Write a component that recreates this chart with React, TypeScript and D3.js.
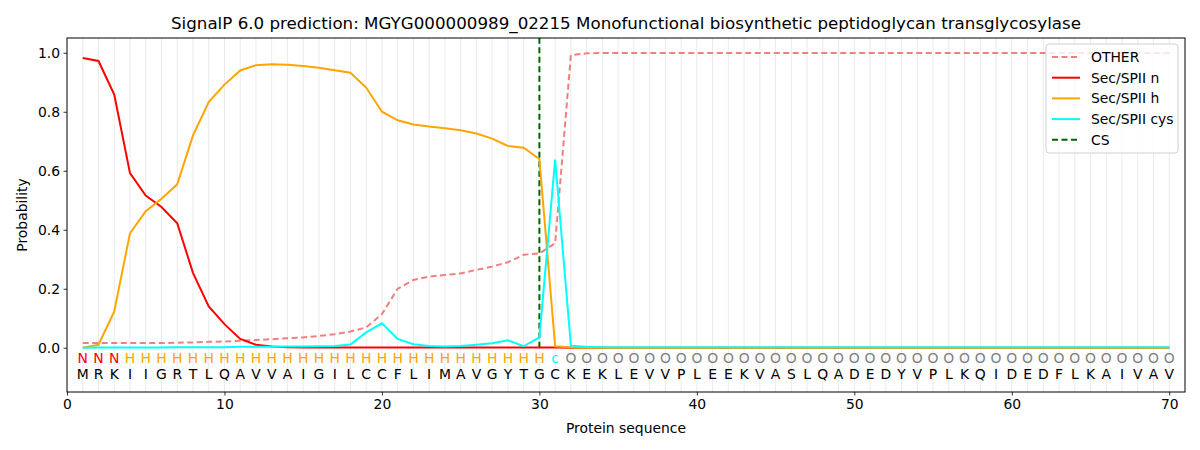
import React, { useEffect, useRef } from "react";
import * as d3 from "d3";

// residues and per-position labels
const sequence = "MRKIIGRTLQAVVAIGILCCFLIMAVGYTGCKEKLEVVPLEEKVASLQADEDYVPLKQIDEDFLKAIVAV".split("");
const regionLabels = "NNNHHHHHHHHHHHHHHHHHHHHHHHHHHHcOOOOOOOOOOOOOOOOOOOOOOOOOOOOOOOOOOOOOOO".split("");

const otherProb = [
  0.016, 0.016, 0.016, 0.016, 0.016, 0.016, 0.017, 0.018, 0.02, 0.021,
  0.024, 0.026, 0.029, 0.032, 0.035, 0.04, 0.046, 0.055, 0.069, 0.114,
  0.2, 0.23, 0.241, 0.247, 0.252, 0.264, 0.275, 0.29, 0.315, 0.32,
  0.354, 0.992, 0.998, 0.999, 0.999, 0.999, 0.999, 0.999, 0.999, 0.999,
  0.999, 0.999, 0.999, 0.999, 0.999, 0.999, 0.999, 0.999, 0.999, 0.999,
  0.999, 0.999, 0.999, 0.999, 0.999, 0.999, 0.999, 0.999, 0.999, 0.999,
  0.999, 0.999, 0.999, 0.999, 0.999, 0.999, 0.999, 0.999, 0.999, 0.999,
];
const nProb = [
  0.982, 0.972, 0.858, 0.592, 0.516, 0.477, 0.422, 0.254, 0.14, 0.08,
  0.03, 0.01, 0.004, 0.002, 0.001, 0.001, 0.001, 0.001, 0.001, 0.001,
  0.001, 0.001, 0.001, 0.001, 0.001, 0.001, 0.001, 0.001, 0.001, 0.001,
  0.001, 0, 0, 0, 0, 0, 0, 0, 0, 0,
  0, 0, 0, 0, 0, 0, 0, 0, 0, 0,
  0, 0, 0, 0, 0, 0, 0, 0, 0, 0,
  0, 0, 0, 0, 0, 0, 0, 0, 0, 0,
];
const hProb = [
  0.0, 0.01, 0.123, 0.388, 0.463, 0.505, 0.554, 0.72, 0.833, 0.892,
  0.94, 0.958, 0.961, 0.959, 0.955, 0.949, 0.941, 0.932, 0.882, 0.8,
  0.771, 0.757, 0.75, 0.744, 0.737, 0.726, 0.709, 0.684, 0.678, 0.64,
  0.005, 0.001, 0, 0, 0, 0, 0, 0, 0, 0,
  0, 0, 0, 0, 0, 0, 0, 0, 0, 0,
  0, 0, 0, 0, 0, 0, 0, 0, 0, 0,
  0, 0, 0, 0, 0, 0, 0, 0, 0, 0,
];
const cysProb = [
  0.0, 0.001, 0.001, 0.001, 0.001, 0.001, 0.002, 0.002, 0.002, 0.002,
  0.003, 0.003, 0.003, 0.004, 0.004, 0.005, 0.006, 0.011, 0.052, 0.083,
  0.03, 0.012, 0.006, 0.004, 0.006, 0.01, 0.015, 0.025, 0.005, 0.035,
  0.638, 0.007, 0.003, 0.002, 0.002, 0.002, 0.002, 0.002, 0.002, 0.002,
  0.002, 0.002, 0.002, 0.002, 0.002, 0.002, 0.002, 0.002, 0.002, 0.002,
  0.002, 0.002, 0.002, 0.002, 0.002, 0.002, 0.002, 0.002, 0.002, 0.002,
  0.002, 0.002, 0.002, 0.002, 0.002, 0.002, 0.002, 0.002, 0.002, 0.002,
];
const csPosition = 30;

const xTicks = [0, 10, 20, 30, 40, 50, 60, 70];
const yTicks = [0, 0.2, 0.4, 0.6, 0.8, 1.0];

const series = [
  { name: "OTHER", values: otherProb, color: "#f08080", dash: "6,3.5" },
  { name: "Sec/SPII n", values: nProb, color: "#ff0000", dash: null },
  { name: "Sec/SPII h", values: hProb, color: "#ffa500", dash: null },
  { name: "Sec/SPII cys", values: cysProb, color: "#00ffff", dash: null },
];

const labelColor: any = { N: "#ff0000", H: "#ffa500", c: "#00ffff", O: "#808080" };

const W = 1200;
const H = 450;
const margin = { top: 38, right: 15, bottom: 58, left: 67 };
const font = "DejaVu Sans, sans-serif";

export default function App() {
  const ref = useRef(null);

  useEffect(() => {
    const svg = d3.select(ref.current);
    svg.selectAll("*").remove();

    const x = d3.scaleLinear().domain([0, 71]).range([margin.left, W - margin.right]);
    const y = d3.scaleLinear().domain([-0.15, 1.05]).range([H - margin.bottom, margin.top]);

    svg.append("rect").attr("width", W).attr("height", H).attr("fill", "white");

    // vertical grid at each residue
    svg
      .append("g")
      .selectAll("line")
      .data(sequence)
      .join("line")
      .attr("x1", (_d, i) => x(i + 1))
      .attr("x2", (_d, i) => x(i + 1))
      .attr("y1", y(1.05))
      .attr("y2", y(-0.15))
      .attr("stroke", "#ebebeb")
      .attr("stroke-width", 1);

    // CS line
    svg
      .append("line")
      .attr("x1", x(csPosition))
      .attr("x2", x(csPosition))
      .attr("y1", y(0))
      .attr("y2", y(1.05))
      .attr("stroke", "#006400")
      .attr("stroke-width", 2)
      .attr("stroke-dasharray", "6,3.5");

    const line = d3
      .line<number>()
      .x((_d, i) => x(i + 1))
      .y((d) => y(d));

    series.forEach((s) => {
      svg
        .append("path")
        .datum(s.values)
        .attr("d", line)
        .attr("fill", "none")
        .attr("stroke", s.color)
        .attr("stroke-width", 2)
        .attr("stroke-dasharray", s.dash);
    });

    // residue labels
    svg
      .append("g")
      .selectAll("text")
      .data(regionLabels)
      .join("text")
      .attr("x", (_d, i) => x(i + 1))
      .attr("y", y(-0.05))
      .attr("text-anchor", "middle")
      .attr("font-family", font)
      .attr("font-size", 13.9)
      .attr("fill", (d) => labelColor[d])
      .text((d) => d);

    svg
      .append("g")
      .selectAll("text")
      .data(sequence)
      .join("text")
      .attr("x", (_d, i) => x(i + 1))
      .attr("y", y(-0.105))
      .attr("text-anchor", "middle")
      .attr("font-family", font)
      .attr("font-size", 13.9)
      .attr("fill", "#000")
      .text((d) => d);

    // axes
    const xAxis = svg
      .append("g")
      .attr("transform", `translate(0,${H - margin.bottom})`)
      .call(d3.axisBottom(x).tickValues(xTicks).tickSize(3.5).tickPadding(3.5).tickFormat(d3.format("d")));
    const yAxis = svg
      .append("g")
      .attr("transform", `translate(${margin.left},0)`)
      .call(d3.axisLeft(y).tickValues(yTicks).tickSize(3.5).tickPadding(3.5).tickFormat(d3.format(".1f")));
    [xAxis, yAxis].forEach((a) => {
      a.select(".domain").remove();
      a.selectAll("text").attr("font-family", font).attr("font-size", 13.9).attr("fill", "#000");
      a.selectAll("line").attr("stroke", "#000").attr("stroke-width", 0.8);
    });

    svg
      .append("rect")
      .attr("x", margin.left)
      .attr("y", margin.top)
      .attr("width", W - margin.left - margin.right)
      .attr("height", H - margin.top - margin.bottom)
      .attr("fill", "none")
      .attr("stroke", "#000")
      .attr("stroke-width", 1);

    svg
      .append("text")
      .attr("x", (margin.left + W - margin.right) / 2)
      .attr("y", 29)
      .attr("text-anchor", "middle")
      .attr("font-family", font)
      .attr("font-size", 16.7)
      .text("SignalP 6.0 prediction: MGYG000000989_02215 Monofunctional biosynthetic peptidoglycan transglycosylase");

    svg
      .append("text")
      .attr("x", (margin.left + W - margin.right) / 2)
      .attr("y", 433)
      .attr("text-anchor", "middle")
      .attr("font-family", font)
      .attr("font-size", 13.9)
      .text("Protein sequence");

    svg
      .append("text")
      .attr("transform", `translate(27,${(margin.top + H - margin.bottom) / 2}) rotate(-90)`)
      .attr("text-anchor", "middle")
      .attr("font-family", font)
      .attr("font-size", 13.9)
      .text("Probability");

    // legend
    const legendItems = [
      ...series.map((s) => ({ name: s.name, color: s.color, dash: s.dash })),
      { name: "CS", color: "#006400", dash: "6,3.5" },
    ];
    const lg = svg.append("g").attr("transform", "translate(1046,44)");
    lg.append("rect")
      .attr("width", 132)
      .attr("height", 109)
      .attr("rx", 3)
      .attr("fill", "white")
      .attr("fill-opacity", 0.8)
      .attr("stroke", "#d0d0d0");
    legendItems.forEach((item, i) => {
      const cy = 13 + i * 20.7;
      lg.append("line")
        .attr("x1", 6)
        .attr("x2", 34)
        .attr("y1", cy)
        .attr("y2", cy)
        .attr("stroke", item.color)
        .attr("stroke-width", 2)
        .attr("stroke-dasharray", item.dash);
      lg.append("text")
        .attr("x", 45)
        .attr("y", cy + 5)
        .attr("font-family", font)
        .attr("font-size", 13.9)
        .text(item.name);
    });
  }, []);

  return <svg ref={ref} width={W} height={H} style={{ display: "block", margin: -8 }} />;
}
